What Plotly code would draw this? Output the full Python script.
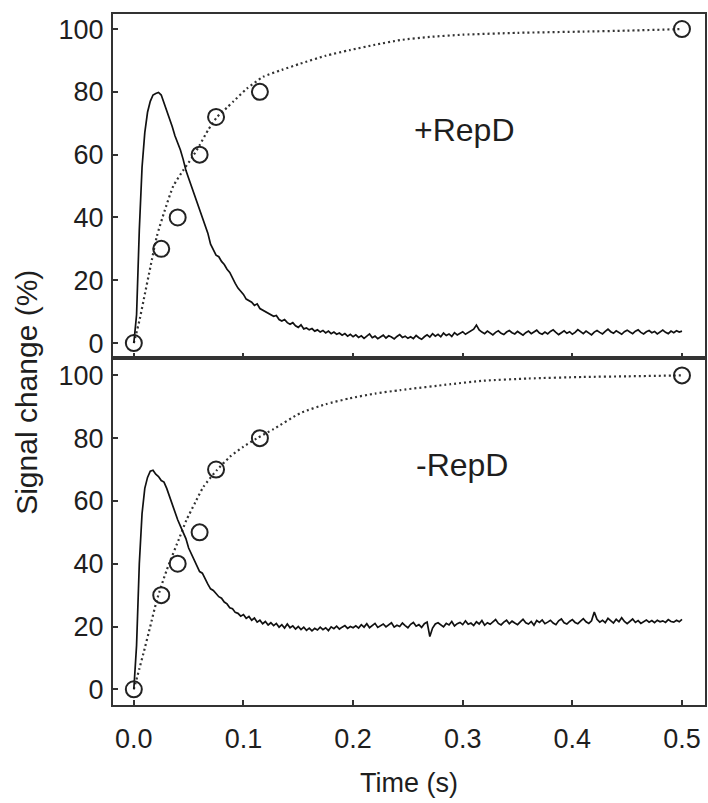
import plotly.graph_objects as go

# ---------------- data ----------------
STEP = 0.0025  # trace sampling interval (s)

trace_plus = [
    0, 9, 36, 56, 67, 73.5, 77, 79, 79.5, 79.8,
    79, 76.5, 74.5, 72, 69, 66, 64, 61.5, 58.5, 55,
    52.5, 50, 47.5, 45.5, 43, 40, 37.5, 35, 31.5, 29.5,
    28, 27.5, 26, 25, 23.5, 22.5, 20.5, 19, 17.5, 16.5,
    15.5, 14, 13.5, 13, 12, 12.5, 11, 10.5, 10, 9.5,
    9, 8.5, 8.8, 7.5, 7, 7.5, 6.5, 6, 6.5, 5.5,
    5, 5.8, 4.5, 4.8, 4.2, 4.6, 3.8, 4.2, 3.5, 4.0,
    3.2, 3.8, 3.0, 3.5, 2.8, 3.2, 2.5, 3.0, 2.2, 2.8,
    2.0,
    2.6, 1.8, 2.3, 1.5, 2.1, 2.9, 1.7, 2.2, 1.4, 2.0,
    2.5, 1.6, 2.3, 1.9, 1.3, 2.1, 2.7, 1.8, 2.2, 1.5,
    2.0, 1.4, 2.4, 1.7, 1.2, 2.0, 2.6, 1.9, 3.0, 2.2,
    2.8, 2.0, 3.2, 2.4, 2.9, 2.1, 3.3, 2.6, 3.0,
    3.6, 2.8, 3.4, 3.9, 4.4, 5.7, 4.2, 3.5, 3.0, 3.8,
    3.2, 2.6, 3.4, 3.9, 3.1, 2.7, 3.5, 4.0, 3.3, 2.9,
    3.7, 3.1, 2.5, 3.3, 3.8, 3.0, 3.6, 4.1, 3.2, 2.8,
    3.5, 2.9, 3.7, 4.2, 3.4, 2.7, 3.3, 3.9, 3.1, 3.6,
    2.8, 3.4, 4.3, 3.5, 3.0, 3.8, 3.2, 2.6, 3.5, 4.0,
    3.4, 2.9, 3.7, 4.4, 3.6, 3.1, 3.9, 3.3, 2.8, 3.6,
    4.1, 3.5, 3.0, 3.8, 4.2, 3.4, 2.9, 3.6, 4.0, 3.3,
    3.7, 2.9, 3.5, 4.1, 3.4, 3.0, 3.8, 3.3, 3.9, 3.5,
    3.8,
]

trace_minus = [
    0, 14, 40, 56, 64, 67.5, 69.5, 69.8, 68.5, 67.8,
    66.5, 66, 64, 61.5, 58.5, 56.5, 54, 52, 50, 48,
    45, 43, 41.5, 39, 37.5, 37, 35, 33.5, 32, 31.5,
    30.5, 29.5, 29, 27.8, 27.2, 26, 25.7, 24.5, 24.2, 23.3,
    23.8, 22.6, 23.2, 22.0, 22.7, 21.4, 22.0, 20.9, 21.6, 20.5,
    21.2, 20.3, 21.0, 19.8, 20.6, 19.5, 20.8, 19.6, 20.2, 19.2,
    20.0, 19.0, 19.8, 18.8, 19.5, 18.6, 19.4, 18.9, 19.8, 19.0,
    19.6, 18.7, 19.9, 19.3, 20.1, 19.2, 19.8, 20.3, 19.4, 20.0,
    19.6,
    20.2, 19.5, 20.6, 19.8, 20.9, 19.6, 20.4, 21.0, 19.7, 20.3,
    20.8, 19.9, 20.5, 21.2, 19.8, 20.4, 20.0, 21.1, 20.3, 19.6,
    20.7, 21.3, 20.1, 20.6, 19.7, 20.9, 21.4, 16.8, 19.5, 20.8,
    21.2, 20.4, 19.9, 21.0, 20.5, 21.6, 20.2, 20.9, 21.3, 20.6,
    21.8, 20.7, 21.1, 20.3, 21.5, 20.8, 21.9, 20.4, 21.2, 20.7,
    21.6, 22.2, 21.0, 20.5, 21.4, 22.0, 20.9, 21.7, 21.1, 20.6,
    21.5, 22.3, 21.2, 20.8, 21.6, 20.4, 21.9, 21.3, 22.1, 20.9,
    21.4, 22.0, 21.1, 20.6, 21.8, 22.4, 21.2, 20.8, 21.6, 22.2,
    21.3, 20.9, 21.7, 22.5, 21.5, 21.0, 21.8, 24.6, 22.3, 21.4,
    22.0, 21.2, 22.6, 21.7, 21.1, 22.3, 21.5, 22.8, 21.6, 20.9,
    21.8, 22.4, 21.3, 21.9, 21.0, 21.7, 22.1, 21.4, 21.9, 21.2,
    22.0, 21.5, 21.8, 21.3, 22.2, 21.6, 21.4, 22.0, 21.5, 22.3,
]

trace_time = [round(i * STEP, 4) for i in range(len(trace_plus))]
trace_time_minus = [round(i * STEP, 4) for i in range(len(trace_minus))]

# open-circle data points
pts_time = [0, 0.025, 0.04, 0.06, 0.075, 0.115, 0.5]
pts_plus = [0, 30, 40, 60, 72, 80, 100]
pts_minus = [0, 30, 40, 50, 70, 80, 100]

# dotted fit curves
fit_plus_t = [0, 0.005, 0.01, 0.015, 0.021, 0.028, 0.036, 0.045, 0.053, 0.06,
              0.068, 0.076, 0.085, 0.091, 0.103, 0.118, 0.135, 0.152, 0.175,
              0.197, 0.22, 0.243, 0.27, 0.3, 0.35, 0.41, 0.45, 0.5]
fit_plus_y = [0, 7, 15.5, 24, 34, 42, 50, 55, 59, 63,
              68, 72, 75, 77, 81, 84.8, 87, 89, 91.5,
              93.3, 95, 96.5, 97.5, 98.2, 98.8, 99.2, 99.5, 100]
fit_minus_t = [0, 0.005, 0.0088, 0.0149, 0.021, 0.03, 0.042, 0.048, 0.056,
               0.0635, 0.0757, 0.0878, 0.1, 0.112, 0.127, 0.152, 0.175, 0.197,
               0.22, 0.243, 0.289, 0.319, 0.36, 0.41, 0.45, 0.5]
fit_minus_y = [0, 6.5, 11.5, 19.9, 28.4, 38, 48.6, 53.9, 59.5,
               64.5, 69.8, 74.1, 77.3, 79.9, 82.8, 88.0, 90.8, 92.7,
               94.2, 95.3, 97.2, 98.3, 99.0, 99.5, 99.7, 100]

x_ticks = [0, 0.1, 0.2, 0.3, 0.4, 0.5]
x_ticktext = ["0.0", "0.1", "0.2", "0.3", "0.4", "0.5"]
y_ticks = [0, 20, 40, 60, 80, 100]
panel_labels = ["+RepD", "-RepD"]

# ---------------- figure ----------------
FONT = "Liberation Sans, Arial, Helvetica, sans-serif"
INK = "#1e1e1e"
FRAME = "#333333"

fig = go.Figure()

def add_panel(xa, ya, tt, ty, ft, fy, pt, py):
    fig.add_trace(go.Scatter(x=ft, y=fy, mode="lines", xaxis=xa, yaxis=ya,
                             line=dict(color="#333333", width=2.2, dash="2px,3px",
                                       shape="spline", smoothing=0.6),
                             showlegend=False, hoverinfo="skip"))
    fig.add_trace(go.Scatter(x=tt, y=ty, mode="lines", xaxis=xa, yaxis=ya,
                             line=dict(color="#111111", width=1.7),
                             showlegend=False))
    fig.add_trace(go.Scatter(x=pt, y=py, mode="markers", xaxis=xa, yaxis=ya,
                             marker=dict(symbol="circle-open", size=16,
                                         color="#222222", line=dict(width=2, color="#222222")),
                             showlegend=False))

add_panel("x", "y", trace_time, trace_plus, fit_plus_t, fit_plus_y, pts_time, pts_plus)
add_panel("x2", "y2", trace_time_minus, trace_minus, fit_minus_t, fit_minus_y, pts_time, pts_minus)

axis_common = dict(showline=True, mirror=True, linecolor=FRAME, linewidth=2,
                   ticks="inside", ticklen=5, tickwidth=1.5, tickcolor=FRAME,
                   showgrid=False, zeroline=False,
                   tickfont=dict(family=FONT, size=27, color=INK))

fig.update_layout(
    width=708, height=803,
    margin=dict(l=113, r=3, t=14, b=98, autoexpand=False),
    paper_bgcolor="white", plot_bgcolor="white",
    xaxis=dict(domain=[0, 1], anchor="y", range=[-0.019, 0.521],
               tickvals=x_ticks, ticktext=x_ticktext, showticklabels=False,
               **axis_common),
    yaxis=dict(domain=[0.502, 1], anchor="x", range=[-4.8, 104.8],
               tickvals=y_ticks, ticklabelstandoff=2, **axis_common),
    xaxis2=dict(domain=[0, 1], anchor="y2", range=[-0.019, 0.521],
                tickvals=x_ticks, ticktext=x_ticktext, ticklabelstandoff=9,
                **axis_common),
    yaxis2=dict(domain=[0, 0.502], anchor="x2", range=[-5, 105.5],
                tickvals=y_ticks, ticklabelstandoff=2, **axis_common),
    annotations=[
        dict(text=panel_labels[0], x=0.302, y=67.8, xref="x", yref="y",
             showarrow=False, font=dict(family=FONT, size=32, color=INK)),
        dict(text=panel_labels[1], x=0.299, y=71.4, xref="x2", yref="y2",
             showarrow=False, font=dict(family=FONT, size=32, color=INK)),
        dict(text="Signal change (%)", x=-0.145, y=0.452, xref="paper", yref="paper",
             xanchor="center", yanchor="middle",
             textangle=-90, showarrow=False,
             font=dict(family=FONT, size=30, color=INK)),
        dict(text="Time (s)", x=0.5, y=-0.113, xref="paper", yref="paper",
             xanchor="center", yanchor="middle",
             showarrow=False, font=dict(family=FONT, size=27, color=INK)),
    ],
)

fig.write_html("out.html",
               config={"displayModeBar": False},
               post_script="document.body.style.margin='0px';")
